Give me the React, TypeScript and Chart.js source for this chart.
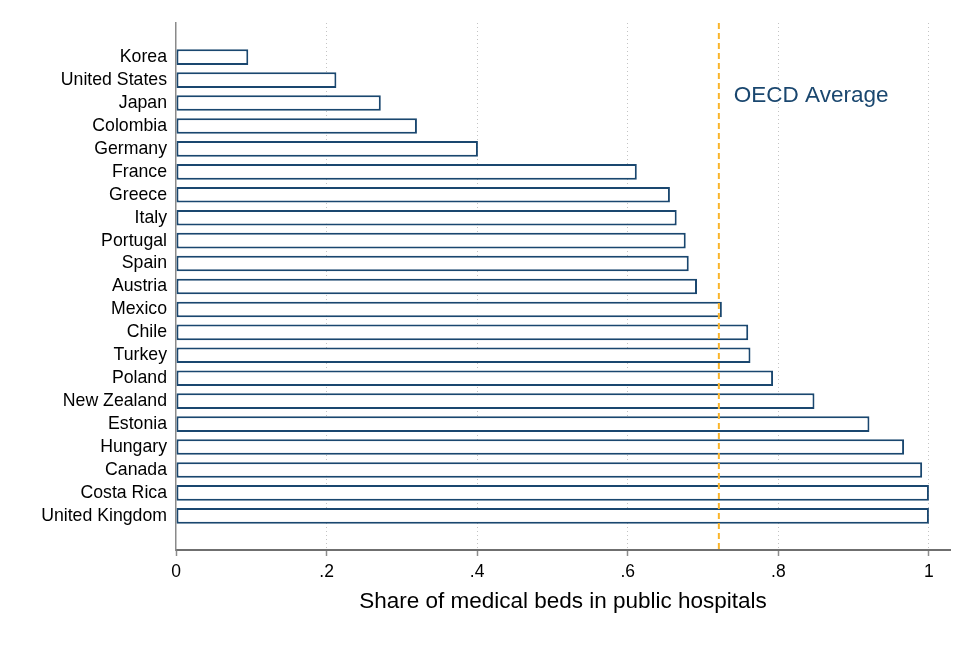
import React, { useEffect, useRef } from "react";
import { Chart, registerables } from "chart.js";

Chart.register(...registerables);

// Countries ordered from lowest to highest public share
const countries = [
  "Korea",
  "United States",
  "Japan",
  "Colombia",
  "Germany",
  "France",
  "Greece",
  "Italy",
  "Portugal",
  "Spain",
  "Austria",
  "Mexico",
  "Chile",
  "Turkey",
  "Poland",
  "New Zealand",
  "Estonia",
  "Hungary",
  "Canada",
  "Costa Rica",
  "United Kingdom",
];

const publicShare = [
  0.096, 0.213, 0.272, 0.32, 0.401, 0.612, 0.656, 0.665, 0.677, 0.681, 0.692,
  0.725, 0.76, 0.763, 0.793, 0.848, 0.921, 0.967, 0.991, 1.0, 1.0,
];

const oecdAverage = 0.721;
const averageLabel = "OECD Average";

const xTicks = [0, 0.2, 0.4, 0.6, 0.8, 1];
const xTickLabels = ["0", ".2", ".4", ".6", ".8", "1"];
const xTitle = "Share of medical beds in public hospitals";

const FONT = "'Liberation Sans', Arial, Helvetica, sans-serif";
const NAVY = "#1a476f";
const ORANGE = "#f9b52c";

// Dashed vertical reference line with its label
const averageLinePlugin = {
  id: "averageLine",
  afterDatasetsDraw(chart: any) {
    const { ctx, chartArea, scales } = chart;
    const x = scales.x.getPixelForValue(oecdAverage);
    ctx.save();
    ctx.strokeStyle = ORANGE;
    ctx.lineWidth = 2;
    ctx.setLineDash([6, 4]);
    ctx.beginPath();
    ctx.moveTo(x, chartArea.top);
    ctx.lineTo(x, chartArea.bottom);
    ctx.stroke();
    ctx.setLineDash([]);
    ctx.fillStyle = NAVY;
    ctx.font = `22.5px ${FONT}`;
    ctx.textAlign = "left";
    ctx.textBaseline = "alphabetic";
    ctx.fillText(averageLabel, x + 15, 101.5);
    ctx.restore();
  },
};

export default function App() {
  const canvasRef = useRef<HTMLCanvasElement | null>(null);

  useEffect(() => {
    if (!canvasRef.current) return;
    Chart.defaults.font.family = FONT;

    const chart = new Chart(canvasRef.current, {
      type: "bar",
      data: {
        datasets: [
          {
            data: countries.map((_, i) => ({ x: publicShare[i], y: i })),
            backgroundColor: "#ffffff",
            borderColor: NAVY,
            borderWidth: 2,
            borderSkipped: false,
            barPercentage: 0.68,
            categoryPercentage: 1,
          },
        ],
      },
      options: {
        indexAxis: "y",
        responsive: false,
        animation: false,
        layout: { padding: { top: 23, right: 25, bottom: 0, left: 0 } },
        plugins: {
          legend: { display: false },
          tooltip: { enabled: false },
        },
        scales: {
          x: {
            type: "linear",
            position: "bottom",
            bounds: "data",
            min: 0,
            max: 1.028,
            afterBuildTicks: (s: any) => {
              s.ticks = xTicks.map((v) => ({ value: v }));
            },
            afterFit: (s: any) => {
              s.height = 100;
            },
            ticks: {
              callback: (_v: any, i: number) => xTickLabels[i],
              font: { size: 17.5 },
              color: "#000",
              padding: 6,
              maxRotation: 0,
              autoSkip: false,
            },
            grid: {
              color: (c: any) =>
                c.tick && c.tick.value === 0 ? "rgba(0,0,0,0)" : "#c4c4c4",
              lineWidth: 1,
              tickColor: "#8c8c8c",
              tickLength: 6,
              tickWidth: 1.5,
              tickBorderDash: [],
            },
            border: { color: "#6f6f6f", width: 2, dash: [1, 3] },
            title: {
              display: true,
              text: xTitle,
              color: "#000",
              font: { size: 22.5 },
              padding: { top: 0, bottom: 34.5 },
            },
          },
          y: {
            type: "linear",
            reverse: true,
            bounds: "data",
            offset: false,
            min: -1.49,
            max: 21.49,
            afterBuildTicks: (s: any) => {
              s.ticks = countries.map((_, i) => ({ value: i }));
            },
            afterFit: (s: any) => {
              s.width = 176;
            },
            ticks: {
              callback: (v: any) => countries[Math.round(Number(v))],
              font: { size: 17.7 },
              color: "#000",
              padding: 9,
              autoSkip: false,
            },
            grid: { drawOnChartArea: false, drawTicks: false, offset: false },
            border: { color: "#8a8a8a", width: 1.5 },
          },
        },
      },
      plugins: [averageLinePlugin],
    } as any);

    return () => chart.destroy();
  }, []);

  return (
    <div
      style={{
        position: "fixed",
        left: 0,
        top: 0,
        width: 975,
        height: 650,
        background: "#fff",
      }}
    >
      <canvas
        ref={canvasRef}
        width={975}
        height={650}
        style={{ display: "block", width: 975, height: 650 }}
      />
    </div>
  );
}
